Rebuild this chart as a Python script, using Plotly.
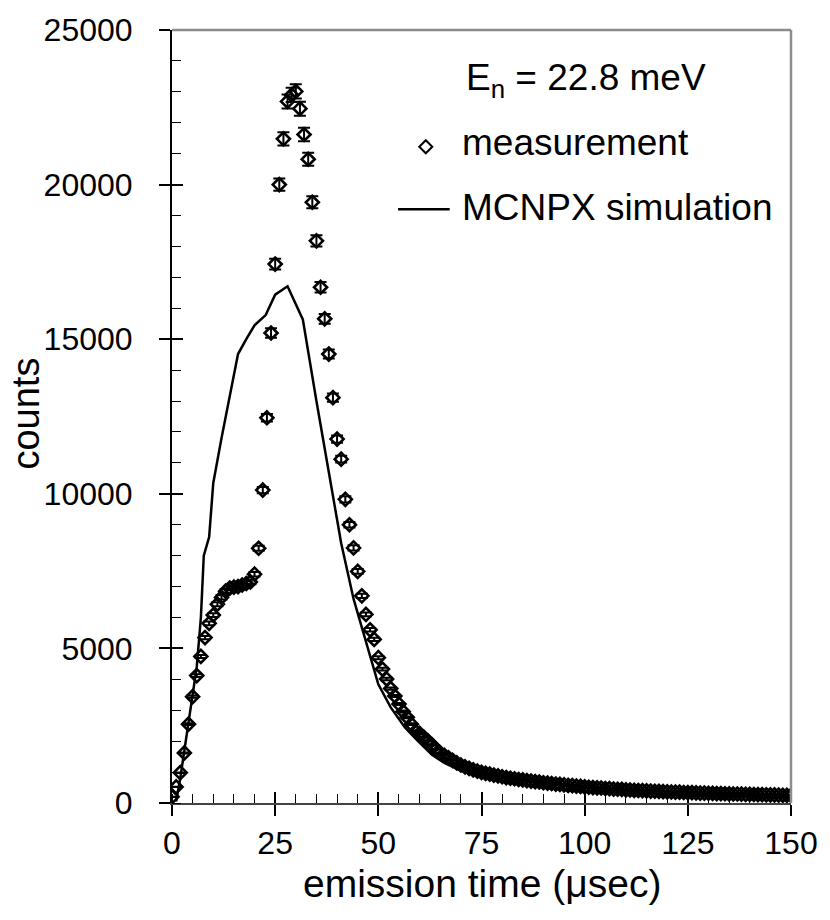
import plotly.graph_objects as go

# ---- data ----
meas_t = list(range(0, 151))
meas_counts = [
    200, 520, 980, 1620, 2550, 3440, 4120, 4740, 5350, 5810,
    6080, 6430, 6650, 6850, 6950, 6980, 7000, 7050, 7100, 7150,
    7400, 8240, 10120, 12460, 15200, 17430, 20000, 21480, 22690, 22900,
    23013, 22455, 21620, 20820, 19430, 18180, 16680, 15660, 14520, 13110,
    11770, 11120, 9820, 9000, 8250, 7490, 6700, 6100, 5600, 5290,
    4700, 4330, 4010, 3700, 3460, 3200, 2960, 2770, 2550, 2320,
    2250, 2130, 2010, 1880, 1740, 1620, 1540, 1460, 1380, 1300,
    1230, 1170, 1120, 1070, 1030, 990, 960, 935, 900, 875,
    850, 820, 800, 785, 760, 745, 725, 710, 690, 680,
    655, 640, 630, 610, 600, 585, 570, 560, 545, 535,
    520, 510, 500, 490, 485, 470, 465, 450, 445, 440,
    425, 420, 410, 405, 400, 390, 385, 380, 375, 370,
    360, 355, 350, 350, 340, 335, 335, 325, 320, 320,
    315, 310, 305, 305, 300, 295, 290, 290, 285, 280,
    280, 275, 270, 270, 265, 260, 260, 255, 250, 250,
    245,
]

sim_t = [1, 2, 3, 4, 5, 6, 7, 7.7, 9, 10, 12, 14, 16, 18, 20, 22.7, 25, 28, 31.7,
         35, 37, 39, 41, 44, 46, 50, 53, 56.4, 59.5, 63, 66, 70, 75, 80, 85, 90,
         100, 110, 120, 130, 140, 150]
sim_counts = [50, 800, 1700, 2600, 3500, 4400, 6000, 8000, 8600, 10350, 11800, 13200,
              14520, 15000, 15450, 15780, 16440, 16710, 15640,
              13000, 11500, 9900, 8400, 6600, 5650, 3840, 3090, 2450, 2020, 1560, 1300,
              1050, 850, 700, 600, 500, 390, 320, 270, 230, 200, 180]

x_ticks = [0, 25, 50, 75, 100, 125, 150]
y_ticks = [0, 5000, 10000, 15000, 20000, 25000]
y_tick_text = ["0", "5000", "10000", "15000", "20000", "25000"]

energy_label = "E<sub>n</sub> = 22.8 meV"
meas_label = "measurement"
sim_label = "MCNPX simulation"
x_title = "emission time (\u03bcsec)"
y_title = "counts"

FONT = "Liberation Sans, Arial, sans-serif"

fig = go.Figure()

fig.add_trace(go.Scatter(
    x=sim_t, y=sim_counts, mode="lines",
    line=dict(color="black", width=2.5), showlegend=False, hoverinfo="skip",
))

fig.add_trace(go.Scatter(
    x=meas_t, y=meas_counts, mode="markers",
    marker=dict(symbol="diamond-open", size=10, color="black",
                line=dict(color="black", width=2.6)),
    error_y=dict(type="percent", value=1, color="black", thickness=2, width=6),
    showlegend=False, hoverinfo="skip",
))

# legend glyphs on an overlay axis spanning the plot area (0..1)
fig.add_trace(go.Scatter(
    x=[0.410], y=[0.849], mode="markers", xaxis="x2", yaxis="y2",
    marker=dict(symbol="diamond-open", size=10, color="black",
                line=dict(color="black", width=2)),
    showlegend=False, hoverinfo="skip",
))
fig.add_trace(go.Scatter(
    x=[0.3652, 0.4486], y=[0.768, 0.768], mode="lines", xaxis="x2", yaxis="y2",
    line=dict(color="black", width=2.5), showlegend=False, hoverinfo="skip",
))

fig.update_layout(
    width=830, height=920,
    margin=dict(l=172, r=34, t=23, b=117),
    paper_bgcolor="white", plot_bgcolor="white",
    font=dict(family=FONT, color="black"),
    xaxis=dict(
        range=[0, 150], tickvals=x_ticks, ticks="outside", ticklen=11, tickwidth=1.5,
        tickcolor="black", showline=True, linecolor="#444", linewidth=2,
        showgrid=False, zeroline=False, tickfont=dict(size=32, family=FONT),
        minor=dict(ticks="inside", ticklen=9, dtick=5, tickwidth=1.2, tickcolor="black"),
    ),
    yaxis=dict(
        range=[0, 25000], tickvals=y_ticks, ticktext=y_tick_text, ticks="outside",
        ticklen=11, tickwidth=1.5, ticklabelstandoff=20,
        tickcolor="black", showline=True, linecolor="black", linewidth=2,
        showgrid=False, zeroline=False, tickfont=dict(size=32, family=FONT),
        minor=dict(ticks="inside", ticklen=9, dtick=1000, tickwidth=1.2, tickcolor="black"),
    ),
    xaxis2=dict(
        overlaying="x", range=[0, 1], tickvals=[v / 150 for v in x_ticks],
        ticks="inside", ticklen=11, tickwidth=1.5, tickcolor="black",
        showticklabels=False, showline=False, showgrid=False, zeroline=False, side="bottom",
    ),
    yaxis2=dict(
        overlaying="y", range=[0, 1], tickvals=[v / 25000 for v in y_ticks],
        ticks="inside", ticklen=11, tickwidth=1.5, tickcolor="black",
        showticklabels=False, showline=False, showgrid=False, zeroline=False, side="left",
    ),
    shapes=[
        dict(type="line", xref="paper", yref="paper", x0=0, x1=1, y0=1, y1=1,
             line=dict(color="#8c8c8c", width=2.5)),
        dict(type="line", xref="paper", yref="paper", x0=1, x1=1, y0=0, y1=1,
             line=dict(color="#8c8c8c", width=2.5)),
    ],
    annotations=[
        dict(text=energy_label, xref="paper", yref="paper", x=0.471, y=0.935,
             xanchor="left", yanchor="middle", showarrow=False, font=dict(size=37)),
        dict(text=meas_label, xref="paper", yref="paper", x=0.4645, y=0.854,
             xanchor="left", yanchor="middle", showarrow=False, font=dict(size=37)),
        dict(text=sim_label, xref="paper", yref="paper", x=0.4645, y=0.771,
             xanchor="left", yanchor="middle", showarrow=False, font=dict(size=37)),
        dict(text=x_title, xref="paper", yref="paper", x=0.5, y=-0.104,
             xanchor="center", yanchor="middle", showarrow=False, font=dict(size=39)),
        dict(text=y_title, xref="paper", yref="paper", x=-0.2356, y=0.504,
             xanchor="center", yanchor="middle", textangle=-90, showarrow=False,
             font=dict(size=38)),
    ],
)

fig.write_html("out.html")
